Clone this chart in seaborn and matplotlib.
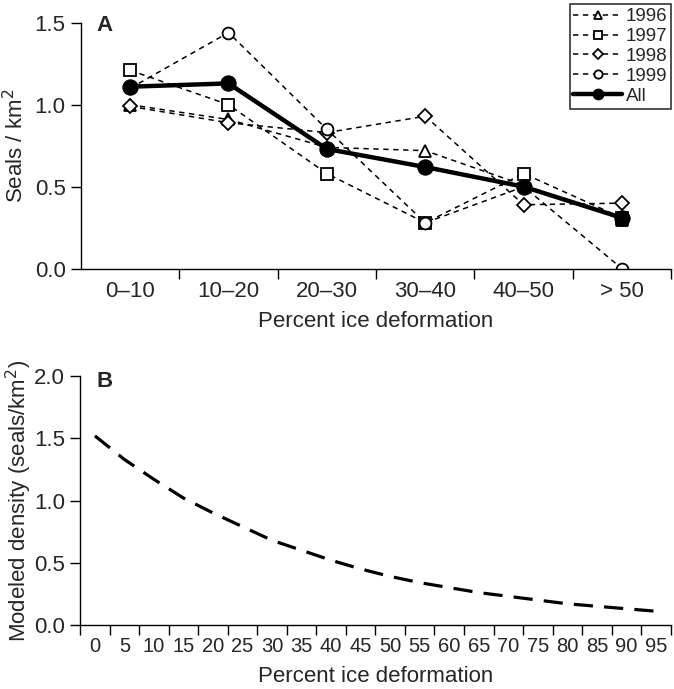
import numpy as np
import pandas as pd
import matplotlib
matplotlib.use("Agg")
import matplotlib.pyplot as plt
import seaborn as sns
from matplotlib.ticker import FixedLocator

sns.set_theme(style="ticks")
plt.rcParams['font.family'] = ['Liberation Sans', 'DejaVu Sans']

# ---- data panel A ----
categories = ["0\u201310", "10\u201320", "20\u201330", "30\u201340", "40\u201350", "> 50"]
y1996 = [1.00, 0.91, 0.74, 0.72, 0.51, 0.30]
y1997 = [1.21, 1.00, 0.58, 0.28, 0.58, 0.31]
y1998 = [0.99, 0.89, 0.83, 0.93, 0.39, 0.40]
y1999 = [1.10, 1.44, 0.85, 0.28, 0.50, 0.00]
y_all = [1.11, 1.13, 0.73, 0.62, 0.50, 0.31]
years = ["1996", "1997", "1998", "1999"]

# ---- data panel B ----
deform = [0, 5, 10, 15, 20, 25, 30, 35, 40, 45, 50, 55, 60, 65, 70, 75, 80, 85, 90, 95]
modeled = [1.52, 1.33, 1.17, 1.02, 0.90, 0.79, 0.68, 0.60, 0.52, 0.45,
           0.39, 0.34, 0.30, 0.26, 0.23, 0.20, 0.17, 0.15, 0.13, 0.11]

fig = plt.figure(figsize=(6.74, 6.89), dpi=100)
axA = fig.add_axes([0.120, 0.610, 0.876, 0.357])
axB = fig.add_axes([0.119, 0.093, 0.876, 0.361])

pos = list(range(len(categories)))
markers = {"1996": "^", "1997": "s", "1998": "D", "1999": "o"}
msize = {"1996": 8.5, "1997": 8.5, "1998": 7.5, "1999": 8.5}
series = {"1996": y1996, "1997": y1997, "1998": y1998, "1999": y1999}

for yr in years:
    df = pd.DataFrame({"x": pos, "y": series[yr]})
    sns.lineplot(data=df, x="x", y="y", ax=axA, color="black", lw=1.1,
                 marker=markers[yr], markersize=msize[yr], markerfacecolor="white",
                 markeredgecolor="black", markeredgewidth=1.3,
                 dashes=False, label=yr, zorder=2)
    axA.lines[-1].set_linestyle((0, (3.5, 3)))

dfa = pd.DataFrame({"x": pos, "y": y_all})
sns.lineplot(data=dfa, x="x", y="y", ax=axA, color="black", lw=3.2,
             marker="o", markersize=11, markerfacecolor="black",
             markeredgecolor="black", label="All", zorder=3)

FS = 16
axA.set_xlim(-0.5, len(categories) - 0.5)
axA.set_ylim(0, 1.5)
axA.set_yticks([0.0, 0.5, 1.0, 1.5])
axA.set_yticklabels(["0.0", "0.5", "1.0", "1.5"])
axA.set_xticks(pos)
axA.set_xticklabels(categories)
axA.xaxis.set_minor_locator(FixedLocator([p + 0.5 for p in pos]))
axA.tick_params(axis="x", which="major", length=0, labelsize=FS, pad=9)
axA.tick_params(axis="x", which="minor", length=7, width=1, color="black")
axA.tick_params(axis="y", labelsize=FS, length=7, width=1, color="black", pad=4)
axA.set_xlabel("Percent ice deformation", fontsize=FS, labelpad=6)
axA.set_ylabel("Seals / km$^2$", fontsize=FS)
axA.yaxis.set_label_coords(-0.09, 0.5)
for s in ["top", "right"]:
    axA.spines[s].set_visible(False)
for s in ["left", "bottom"]:
    axA.spines[s].set_color("black")
    axA.spines[s].set_linewidth(1)
axA.text(0.027, 1.03, "A", transform=axA.transAxes, fontsize=16,
         fontweight="bold", va="top", ha="left")

leg = axA.legend(loc="upper right", bbox_to_anchor=(1.0, 1.075), frameon=True,
                 fancybox=False, edgecolor="black", fontsize=13.5, handlelength=2.6,
                 handletextpad=0.2, borderpad=0.2, labelspacing=0.15,
                 borderaxespad=0.0, markerscale=0.7)
leg.get_frame().set_linewidth(1.2)

# ---- panel B ----
dfb = pd.DataFrame({"x": deform, "y": modeled})
sns.lineplot(data=dfb, x="x", y="y", ax=axB, color="black", lw=2.3)
axB.lines[-1].set_linestyle((0, (6, 3.5)))
axB.set_xlim(-2.5, 97.5)
axB.set_ylim(0, 2.0)
axB.set_yticks([0.0, 0.5, 1.0, 1.5, 2.0])
axB.set_yticklabels(["0.0", "0.5", "1.0", "1.5", "2.0"])
axB.set_xticks(deform)
axB.set_xticklabels([str(v) for v in deform])
axB.xaxis.set_minor_locator(FixedLocator([v + 2.5 for v in deform] + [-2.5]))
axB.tick_params(axis="x", which="major", length=0, labelsize=14.5, pad=9)
axB.tick_params(axis="x", which="minor", length=7, width=1, color="black")
axB.tick_params(axis="y", labelsize=FS, length=7, width=1, color="black", pad=4)
axB.set_xlabel("Percent ice deformation", fontsize=FS, labelpad=7)
axB.set_ylabel("Modeled density (seals/km$^2$)", fontsize=FS)
axB.yaxis.set_label_coords(-0.079, 0.5)
for s in ["top", "right"]:
    axB.spines[s].set_visible(False)
for s in ["left", "bottom"]:
    axB.spines[s].set_color("black")
    axB.spines[s].set_linewidth(1)
axB.text(0.027, 1.02, "B", transform=axB.transAxes, fontsize=16,
         fontweight="bold", va="top", ha="left")

fig.savefig("out.png", dpi=100, facecolor="white")
